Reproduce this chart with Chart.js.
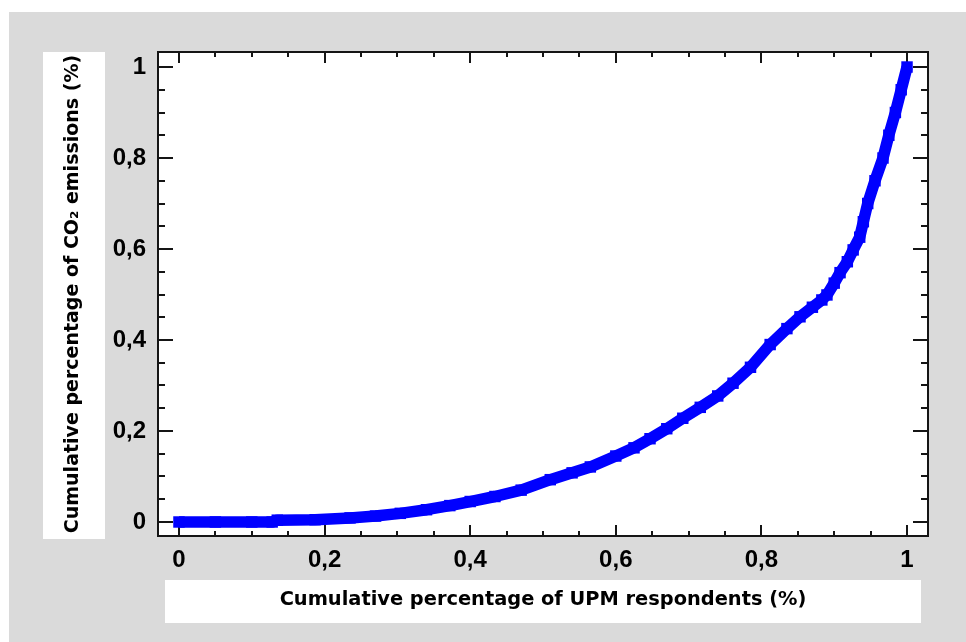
<!DOCTYPE html>
<html><head><meta charset="utf-8">
<script src="https://cdn.jsdelivr.net/npm/chart.js@4.4.1/dist/chart.umd.min.js"></script>
<style>html,body{margin:0;padding:0;background:#fff;overflow:hidden}#wrap{width:966px;height:642px}</style>
</head><body><div id="wrap"><canvas id="c" width="966" height="642"></canvas></div>
<script>
// Data (cumulative share of respondents vs cumulative share of CO2)
const xValues = [0, 0.05, 0.1, 0.128, 0.135, 0.187, 0.235, 0.27, 0.304, 0.34, 0.372, 0.4, 0.434, 0.47, 0.51, 0.54, 0.565, 0.6, 0.625, 0.647, 0.67, 0.692, 0.716, 0.74, 0.761, 0.785, 0.812, 0.835, 0.853, 0.87, 0.883, 0.89, 0.9, 0.908, 0.918, 0.926, 0.935, 0.94, 0.946, 0.956, 0.967, 0.975, 0.984, 0.992, 1.0];
const yValues = [0, 0, 0, 0, 0.004, 0.005, 0.009, 0.013, 0.019, 0.027, 0.036, 0.045, 0.056, 0.07, 0.093, 0.108, 0.121, 0.145, 0.163, 0.183, 0.205, 0.228, 0.252, 0.277, 0.305, 0.34, 0.39, 0.425, 0.451, 0.472, 0.488, 0.499, 0.525, 0.548, 0.572, 0.598, 0.626, 0.66, 0.70, 0.75, 0.80, 0.85, 0.90, 0.95, 1.0];
const xTickValues = [0, 0.2, 0.4, 0.6, 0.8, 1];
const xTickLabels = ['0', '0,2', '0,4', '0,6', '0,8', '1'];
const yTickValues = [0, 0.2, 0.4, 0.6, 0.8, 1];
const yTickLabels = ['0', '0,2', '0,4', '0,6', '0,8', '1'];
const minorTickValues = [0,0.05,0.1,0.15,0.2,0.25,0.3,0.35,0.4,0.45,0.5,0.55,0.6,0.65,0.7,0.75,0.8,0.85,0.9,0.95,1];
const xTitle = 'Cumulative percentage of UPM respondents (%)';
const yTitle = 'Cumulative percentage of CO\u2082 emissions (%)';

const decor = {
  id: 'decor',
  beforeDraw(chart) {
    const ctx = chart.ctx, a = chart.chartArea;
    ctx.save();
    ctx.fillStyle = '#ffffff';
    ctx.fillRect(0, 0, chart.width, chart.height);
    ctx.fillStyle = '#dadada';
    ctx.fillRect(9, 12, chart.width - 9, chart.height - 12);
    ctx.fillStyle = '#ffffff';
    ctx.fillRect(a.left, a.top, a.right - a.left, a.bottom - a.top);
    ctx.fillRect(a.left + 7, a.bottom + 44, a.right - a.left - 14, 43);
    ctx.fillRect(43, a.top, 62, a.bottom - a.top + 3);
    ctx.restore();
  },
  beforeDatasetsDraw(chart) {
    const ctx = chart.ctx, a = chart.chartArea;
    const xs = chart.scales.x, ys = chart.scales.y;
    ctx.save();
    ctx.strokeStyle = '#151515';
    ctx.lineWidth = 2;
    ctx.beginPath();
    minorTickValues.forEach(v => {
      const major = xTickValues.some(t => Math.abs(t - v) < 1e-9);
      const px = Math.round(xs.getPixelForValue(v));
      const lx = major ? 11 : 5;
      ctx.moveTo(px, a.bottom); ctx.lineTo(px, a.bottom - lx);
      ctx.moveTo(px, a.top); ctx.lineTo(px, a.top + lx);
      const py = Math.round(ys.getPixelForValue(v));
      const ly = major ? 15 : 7;
      ctx.moveTo(a.left, py); ctx.lineTo(a.left + ly, py);
      ctx.moveTo(a.right, py); ctx.lineTo(a.right - ly, py);
    });
    ctx.stroke();
    ctx.strokeRect(a.left, a.top, a.right - a.left, a.bottom - a.top);
    ctx.restore();
  }
};

const tickFont = { family: '"Liberation Sans", Arial, sans-serif', size: 24, weight: 'bold' };
const xTitleFont = { family: '"DejaVu Sans", sans-serif', size: 19.4, weight: 'bold' };
const yTitleFont = { family: '"DejaVu Sans", sans-serif', size: 19, weight: 'bold' };

new Chart(document.getElementById('c'), {
  type: 'scatter',
  data: {
    datasets: [{
      data: xValues.map((x, i) => ({ x: x, y: yValues[i] })),
      showLine: true,
      borderColor: '#0000ff',
      borderWidth: 11.5,
      borderJoinStyle: 'round',
      tension: 0,
      pointStyle: 'rect',
      pointRadius: 8.1,
      pointBorderWidth: 0,
      pointBackgroundColor: '#0000ff',
      clip: false
    }]
  },
  options: {
    responsive: false,
    animation: false,
    devicePixelRatio: 1,
    layout: { padding: { top: 52, right: 38, bottom: 0, left: 0 } },
    plugins: { legend: { display: false }, tooltip: { enabled: false } },
    scales: {
      x: {
        type: 'linear', min: -0.0288, max: 1.0288,
        afterBuildTicks: s => { s.ticks = xTickValues.map(v => ({ value: v })); },
        afterFit: s => { s.height = 106; },
        grid: { display: false, drawTicks: false },
        border: { display: false },
        ticks: { padding: 10, color: '#000', font: tickFont, maxRotation: 0, autoSkip: false,
          callback: (v, i) => xTickLabels[i] },
        title: { display: true, text: xTitle, color: '#000', font: xTitleFont, padding: { top: 0, bottom: 30.4 } }
      },
      y: {
        type: 'linear', min: -0.0308, max: 1.033,
        afterBuildTicks: s => { s.ticks = yTickValues.map(v => ({ value: v })); },
        afterFit: s => { s.width = 158; },
        grid: { display: false, drawTicks: false },
        border: { display: false },
        ticks: { padding: 12, color: '#000', font: tickFont, autoSkip: false,
          callback: (v, i) => yTickLabels[i] },
        title: { display: true, text: yTitle, color: '#000', font: yTitleFont, padding: { top: 61.6, bottom: 0 } }
      }
    }
  },
  plugins: [decor]
});
</script>
</body></html>
